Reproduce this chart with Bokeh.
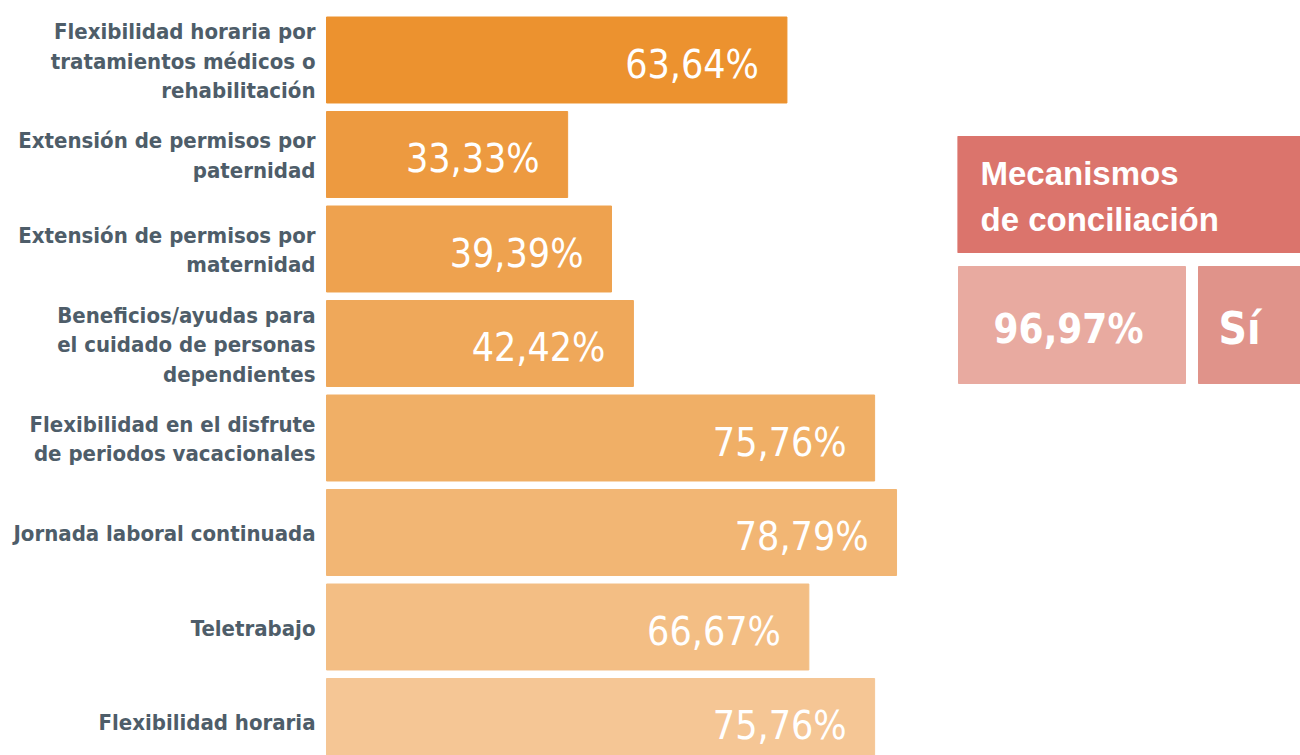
from bokeh.plotting import figure
from bokeh.layouts import row
from bokeh.models import Range1d, ColumnDataSource
from bokeh.core.properties import value
from bokeh.embed import file_html
from bokeh.resources import INLINE

categories = [
    "Flexibilidad horaria por\ntratamientos médicos o\nrehabilitación",
    "Extensión de permisos por\npaternidad",
    "Extensión de permisos por\nmaternidad",
    "Beneficios/ayudas para\nel cuidado de personas\ndependientes",
    "Flexibilidad en el disfrute\nde periodos vacacionales",
    "Jornada laboral continuada",
    "Teletrabajo",
    "Flexibilidad horaria",
]
values = [63.64, 33.33, 39.39, 42.42, 75.76, 78.79, 66.67, 75.76]
value_labels = ["63,64%", "33,33%", "39,39%", "42,42%", "75,76%", "78,79%", "66,67%", "75,76%"]
bar_colors = ["#EC922F", "#ED9A40", "#EEA24F", "#EFA85A", "#F0AF66", "#F2B674", "#F3BE84", "#F5C695"]

header_text = "Mecanismos\nde conciliación"
summary_value = "96,97%"
summary_answer = "Sí"

COND_FONT = "'DejaVu Sans Condensed', Roboto"
label_color = "#4E5D69"

pos = list(range(len(categories)))
src = ColumnDataSource(dict(y=pos, v=values, lab=value_labels, cat=categories,
                            zero=[0] * len(pos), c=bar_colors))

W_LEFT = 957
H = 755
px_per = 7.235
xmin = -326 / px_per
row_px = 94.5
ymin = -59.5 / row_px
p = figure(width=W_LEFT, height=H, output_backend="svg", toolbar_location=None,
           x_range=Range1d(xmin, xmin + W_LEFT / px_per),
           y_range=Range1d(ymin + H / row_px, ymin),
           min_border=0, outline_line_color=None)
p.axis.visible = False
p.grid.visible = False

p.hbar(y="y", left=0, right="v", height=0.91, color="c", source=src)
p.text(x="v", y="y", text="lab", source=src, x_offset=-28, y_offset=4,
       text_align="right", text_baseline="middle",
       text_font=value(COND_FONT), text_font_size="39px", text_color="white")
p.text(x="zero", y="y", text="cat", source=src, x_offset=-11, y_offset=1,
       text_align="right", text_baseline="middle", text_line_height=1.18,
       text_font=value(COND_FONT), text_font_style="bold",
       text_font_size="22px", text_color=label_color)

q = figure(width=1300 - W_LEFT, height=H, output_backend="svg", toolbar_location=None,
           x_range=Range1d(0, 1300 - W_LEFT), y_range=Range1d(H, 0),
           min_border=0, outline_line_color=None)
q.axis.visible = False
q.grid.visible = False
q.quad(left=[0], right=[343], top=[136], bottom=[252], color="#DB746C")
q.quad(left=[1], right=[228], top=[266], bottom=[383], color="#E8AAA0")
q.quad(left=[241], right=[343], top=[266], bottom=[383], color="#E0938A")
q.text(x=[23], y=[196], text=[header_text], text_align="left", text_baseline="middle",
       text_line_height=1.25, text_font=value("Liberation Sans"), text_font_style="bold",
       text_font_size="33px", text_color="white")
q.text(x=[111], y=[328], text=[summary_value], text_align="center", text_baseline="middle",
       text_font=value(COND_FONT), text_font_style="bold",
       text_font_size="40px", text_color="white")
q.text(x=[282], y=[328], text=[summary_answer], text_align="center", text_baseline="middle",
       text_font=value(COND_FONT), text_font_style="bold",
       text_font_size="44px", text_color="white")

layout = row(p, q, spacing=0)
open("out.html", "w").write(file_html(layout, INLINE))
